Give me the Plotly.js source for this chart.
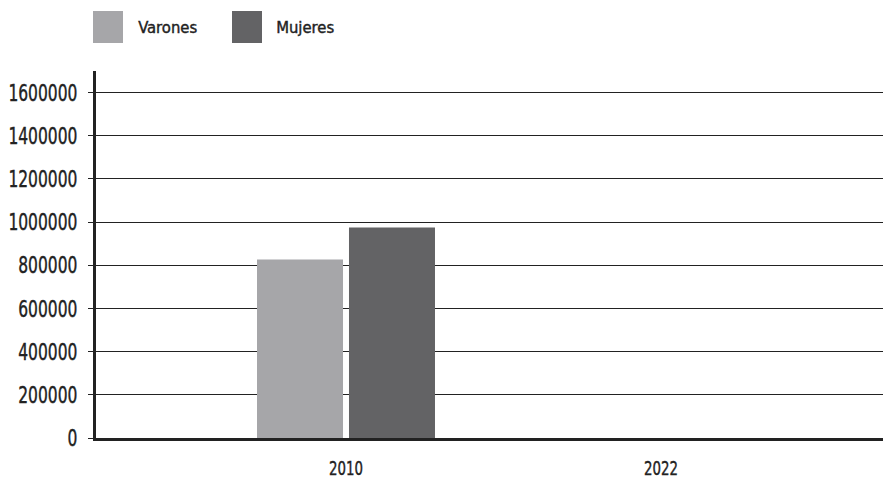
<!DOCTYPE html>
<html>
<head>
<meta charset="utf-8">
<script src="https://cdn.plot.ly/plotly-3.0.1.min.js"></script>
<style>html,body{margin:0;padding:0;background:#fff;}#chart{width:883px;height:479px;}</style>
</head>
<body>
<div id="chart"></div>
<script>
var years = ['2010', '2022'];
var varones = [827000, null];
var mujeres = [975000, null];
var seriesNames = ['Varones', 'Mujeres'];
var seriesColors = ['#a6a6a9', '#636365'];
var yTicks = [0, 200000, 400000, 600000, 800000, 1000000, 1200000, 1400000, 1600000];

var FONT = '"DejaVu Sans Condensed", "DejaVu Sans", sans-serif';
var W = 883, H = 479, ML = 96, MR = 0, MT = 71, MB = 41;
var PW = W - ML - MR, PH = H - MT - MB;
function px(x) { return (x - ML) / PW; }
function py(y) { return (H - MB - y) / PH; }

var traces = [
  {type: 'bar', name: seriesNames[0], x: years, y: varones, marker: {color: seriesColors[0]}, hoverinfo: 'y'},
  {type: 'bar', name: seriesNames[1], x: years, y: mujeres, marker: {color: seriesColors[1]}, hoverinfo: 'y'}
];

var legendBoxes = [[93, 123], [232, 262]];
var legendTextCenter = [167.5, 304.5];
var shapes = [], annotations = [];
for (var i = 0; i < seriesNames.length; i++) {
  shapes.push({type: 'rect', xref: 'paper', yref: 'paper',
    x0: px(legendBoxes[i][0]), x1: px(legendBoxes[i][1]), y0: py(43), y1: py(11),
    fillcolor: seriesColors[i], line: {width: 0}});
  annotations.push({xref: 'paper', yref: 'paper', x: px(legendTextCenter[i]), y: py(27),
    xanchor: 'center', yanchor: 'middle', showarrow: false, text: seriesNames[i],
    font: {family: FONT, size: 16, color: '#222'}});
}

var unit = 315, c0 = 346;
var layout = {
  width: W, height: H,
  margin: {l: ML, r: MR, t: MT, b: MB, pad: 0},
  paper_bgcolor: '#fff', plot_bgcolor: '#fff',
  showlegend: false,
  barmode: 'group', bargap: 0.416, bargroupgap: 0.065,
  font: {family: FONT, color: '#222'},
  xaxis: {type: 'category', range: [-(c0 - ML) / unit, (W - MR - c0) / unit], showgrid: false, zeroline: false,
    showline: true, linecolor: '#222', linewidth: 3, ticks: '', ticklabelstandoff: 10,
    tickfont: {family: FONT, size: 20, color: '#222'}},
  yaxis: {range: [0, 1700000], tickvals: yTicks, ticktext: yTicks.map(String),
    showgrid: true, gridcolor: '#222', gridwidth: 1, zeroline: false,
    showline: true, linecolor: '#222', linewidth: 3,
    ticks: 'outside', ticklen: 5, tickcolor: '#222', ticklabelstandoff: 6,
    tickfont: {family: FONT, size: 23, color: '#222'}},
  shapes: shapes,
  annotations: annotations
};

function squeeze(selector, refText, targetWidth) {
  var nodes = document.querySelectorAll(selector);
  var f = null;
  nodes.forEach(function (n) { if (n.textContent === refText) f = targetWidth / n.getComputedTextLength(); });
  if (!f) return;
  nodes.forEach(function (n) {
    var w = n.getComputedTextLength();
    n.setAttribute('textLength', (w * f).toFixed(2));
    n.setAttribute('lengthAdjust', 'spacingAndGlyphs');
    n.style.stroke = '#222';
    n.style.strokeWidth = '0.4px';
  });
}

Plotly.newPlot('chart', traces, layout, {displayModeBar: false, staticPlot: true}).then(function () {
  squeeze('.ytick text', '1600000', 69);
  squeeze('.xtick text', '2010', 34);
  squeeze('.annotation-text', 'Varones', 59);
});
</script>
</body>
</html>
